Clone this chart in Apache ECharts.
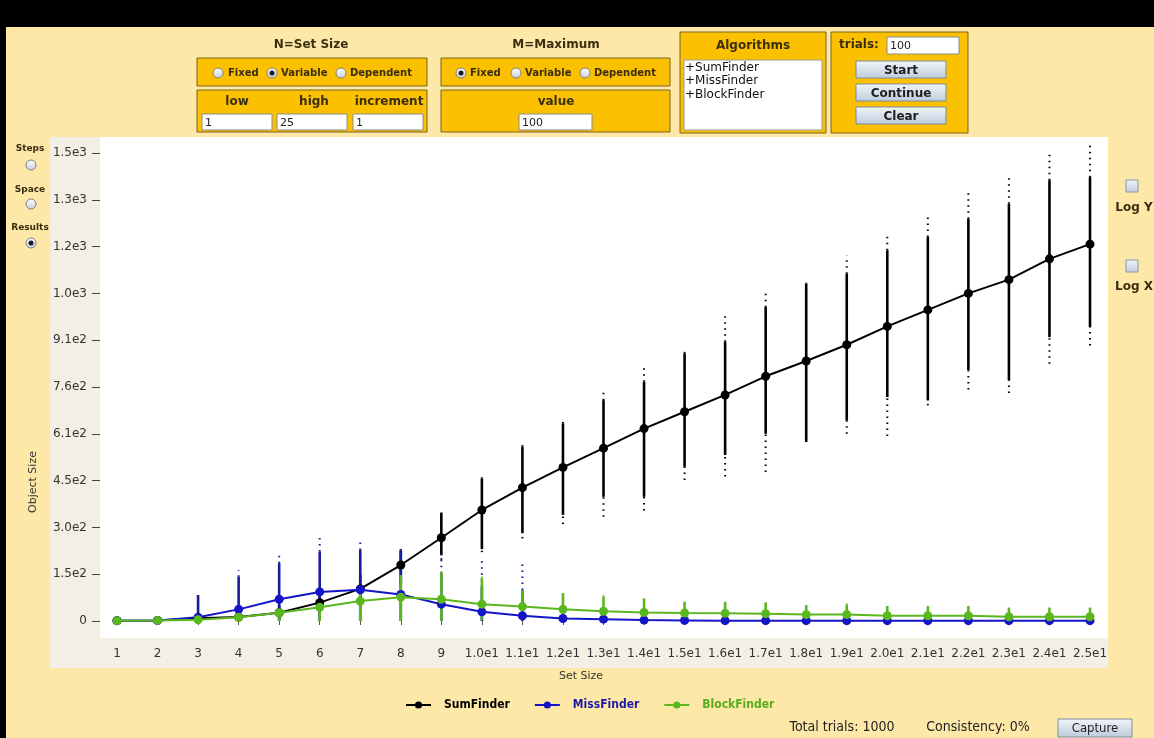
<!DOCTYPE html>
<html>
<head>
<meta charset="utf-8">
<title>Object Size vs Set Size</title>
<script src="https://cdn.jsdelivr.net/npm/echarts@6/dist/echarts.min.js"></script>
<style>
  html, body { margin: 0; padding: 0; background: #fde8a8; }
  #chart { width: 1154px; height: 738px; }
</style>
</head>
<body>
<div id="chart"></div>
<script>
// ---- data ----
const setSizes = [1, 2, 3, 4, 5, 6, 7, 8, 9, 10, 11, 12, 13, 14, 15, 16, 17, 18, 19, 20, 21, 22, 23, 24, 25];
const xTickLabels = ['1', '2', '3', '4', '5', '6', '7', '8', '9', '1.0e1', '1.1e1', '1.2e1', '1.3e1', '1.4e1',
  '1.5e1', '1.6e1', '1.7e1', '1.8e1', '1.9e1', '2.0e1', '2.1e1', '2.2e1', '2.3e1', '2.4e1', '2.5e1'];
const yTickValues = [0, 153, 306, 459, 612, 765, 918, 1071, 1224, 1377, 1530];
const yTickLabels = ['0', '1.5e2', '3.0e2', '4.5e2', '6.1e2', '7.6e2', '9.1e2', '1.0e3', '1.2e3', '1.3e3', '1.5e3'];

// SumFinder: mean, dense range (low..high) and extreme trials (min..max)
const sumMean = [1, 2, 9, 13, 27, 60, 105, 183, 272, 363, 436, 502, 565, 629, 684, 739, 800, 850, 903, 963, 1017, 1071, 1116, 1184, 1232];
const sumLow  = [0, 0, 0, 3, 8, 25, 55, 120, 215, 235, 287, 347, 406, 406, 504, 543, 612, 585, 656, 732, 721, 820, 787, 928, 961];
const sumHigh = [2, 4, 20, 30, 50, 100, 150, 230, 353, 465, 570, 646, 722, 782, 875, 913, 1026, 1103, 1135, 1212, 1255, 1315, 1364, 1441, 1451];
const sumMin  = [0, 0, 0, 0, 3, 15, 45, 110, 200, 225, 270, 317, 341, 361, 461, 472, 487, 585, 612, 605, 705, 757, 745, 841, 901];
const sumMax  = [3, 5, 25, 35, 60, 110, 160, 240, 355, 478, 583, 655, 750, 826, 888, 998, 1084, 1106, 1195, 1261, 1321, 1399, 1459, 1533, 1566];

// MissFinder
const missMean = [1, 2, 12, 38, 71, 95, 102, 87, 55, 30, 17, 8, 6, 3, 2, 1, 1, 1, 1, 1, 1, 1, 1, 1, 1];
const missLow  = [0, 0, 0, 0, 0, 0, 0, 0, 0, 0, 0, 0, 0, 0, 0, 0, 0, 0, 0, 0, 0, 0, 0, 0, 0];
const missHigh = [2, 3, 85, 145, 189, 227, 232, 230, 156, 112, 101, 40, 15, 10, 5, 3, 3, 3, 3, 3, 3, 3, 3, 3, 3];
const missMin  = [0, 0, 0, 0, 0, 0, 0, 0, 0, 0, 0, 0, 0, 0, 0, 0, 0, 0, 0, 0, 0, 0, 0, 0, 0];
const missMax  = [2, 3, 85, 167, 219, 274, 270, 245, 230, 199, 189, 40, 20, 12, 8, 5, 5, 5, 5, 5, 5, 5, 5, 5, 5];

// BlockFinder
const blockMean = [1, 2, 4, 12, 27, 45, 65, 78, 71, 55, 47, 38, 32, 28, 26, 25, 24, 21, 21, 17, 17, 17, 14, 14, 14];
const blockLow  = [0, 0, 0, 0, 0, 0, 0, 0, 0, 3, 3, 3, 3, 3, 3, 3, 3, 3, 3, 3, 3, 3, 3, 3, 3];
const blockHigh = [2, 3, 8, 20, 39, 70, 112, 150, 156, 140, 101, 91, 79, 74, 63, 63, 61, 52, 52, 49, 49, 49, 44, 44, 44];
const blockMin  = [0, 0, 0, 0, 0, 0, 0, 0, 0, 3, 3, 3, 3, 3, 3, 3, 3, 3, 3, 3, 3, 3, 3, 3, 3];
const blockMax  = [2, 3, 8, 20, 39, 70, 112, 150, 170, 150, 101, 91, 98, 74, 63, 63, 61, 52, 72, 49, 49, 49, 44, 44, 44];

// ---- styling ----
const FONT = 'DejaVu Sans';
const CONDENSED = "'DejaVu Sans Condensed', 'DejaVu Sans'";
const PANEL_TEXT = '#3b2e10';
const GOLD = '#fbc000';
const GOLD_EDGE = '#7d6220';
const COLORS = {
  sum:   { line: '#000000', bar: '#000000', text: '#000000' },
  miss:  { line: '#1414c8', bar: '#1a1a9c', text: '#1a1aa8' },
  block: { line: '#5ab81e', bar: '#5ab81e', text: '#5aad1f' }
};

function rangeRows(mn, lo, hi, mx) {
  return setSizes.map((x, i) => [x, mn[i], lo[i], hi[i], mx[i]]);
}
function meanRows(mean) {
  return setSizes.map((x, i) => [x, mean[i]]);
}

// vertical trial spread: solid dense part, dotted sparse extremes
function rangeRenderer(color, width) {
  return function (params, api) {
    const x = api.value(0);
    const mn = api.value(1), lo = api.value(2), hi = api.value(3), mx = api.value(4);
    const children = [];
    const seg = (a, b, dotted) => {
      const A = api.coord([x, a]);
      const B = api.coord([x, b]);
      children.push({
        type: 'line',
        shape: { x1: A[0], y1: A[1], x2: B[0], y2: B[1] },
        style: {
          stroke: color,
          lineWidth: dotted ? 2 : width,
          lineDash: dotted ? [1.5, 4.5] : null
        }
      });
    };
    if (hi > lo) seg(lo, hi, false);
    if (mx > hi) seg(hi, mx, true);
    if (lo > mn) seg(mn, lo, true);
    return { type: 'group', children };
  };
}

function rangeSeries(name, rows, color) {
  return {
    type: 'custom',
    name: name,
    data: rows,
    encode: { x: 0, y: [1, 2, 3, 4] },
    renderItem: rangeRenderer(color, 2.6),
    silent: true,
    z: 2
  };
}
function meanSeries(name, rows, color, z) {
  return {
    type: 'line',
    name: name,
    data: rows,
    symbol: 'circle',
    symbolSize: 9,
    clip: false,
    lineStyle: { color: color, width: 2 },
    itemStyle: { color: color },
    z: z
  };
}

// ---- window furniture ----
const radioFill = new echarts.graphic.LinearGradient(0, 0, 0, 1, [
  { offset: 0, color: '#ffffff' }, { offset: 1, color: '#c9d0d8' }
]);
const buttonFill = new echarts.graphic.LinearGradient(0, 0, 0, 1, [
  { offset: 0, color: '#f3f6fa' }, { offset: 1, color: '#bccbdb' }
]);
const boxFill = new echarts.graphic.LinearGradient(0, 0, 0, 1, [
  { offset: 0, color: '#eef2f7' }, { offset: 1, color: '#c3d0de' }
]);

function rect(x, y, w, h, fill, stroke, z) {
  return {
    type: 'rect', shape: { x, y, width: w, height: h }, z: z == null ? 0 : z,
    style: { fill, stroke: stroke || null, lineWidth: stroke ? 1 : 0 }
  };
}
function label(text, x, y, font, fill, align) {
  return {
    type: 'text', x, y, z: 5,
    style: {
      text, font, fill: fill || PANEL_TEXT,
      align: align || 'center', verticalAlign: 'middle',
      textAlign: align || 'center', textVerticalAlign: 'middle'
    }
  };
}
function radio(x, y, on) {
  const els = [{ type: 'circle', z: 5, shape: { cx: x, cy: y, r: 5 }, style: { fill: radioFill, stroke: '#808080', lineWidth: 1 } }];
  if (on) els.push({ type: 'circle', z: 6, shape: { cx: x, cy: y, r: 2.5 }, style: { fill: '#1b1b2b' } });
  return els;
}
function input(x, y, w, h, text) {
  return [
    rect(x, y, w, h, '#ffffff', '#8c8c8c', 4),
    label(text, x + 3, y + h / 2 + 1, '11px ' + FONT, '#222222', 'left')
  ];
}
function button(x, y, w, h, text, font) {
  return [
    rect(x, y, w, h, buttonFill, '#7d8ca0', 4),
    label(text, x + w / 2, y + h / 2 + 1, font, '#1e1e1e')
  ];
}

const B12 = 'bold 12px ' + FONT;
const B10 = 'bold 10px ' + FONT;
const B9 = 'bold 9px ' + FONT;

const furniture = [
  // frame
  rect(0, 0, 1154, 27, '#000000', null, 1),
  rect(0, 0, 6, 738, '#000000', null, 1),
  // plot panel and drawing area
  rect(50, 137, 1058, 531, '#f3efe5', null, -20),
  rect(100, 137, 1008, 501, '#ffffff', null, -19),

  // N = Set Size
  label('N=Set Size', 311, 45, B12),
  rect(197, 58, 230, 28, GOLD, GOLD_EDGE, 3),
  ...radio(218, 73, false), label('Fixed', 228, 73, B10, null, 'left'),
  ...radio(272, 73, true), label('Variable', 281, 73, B10, null, 'left'),
  ...radio(341, 73, false), label('Dependent', 350, 73, B10, null, 'left'),
  rect(197, 90, 230, 42, GOLD, GOLD_EDGE, 3),
  label('low', 237, 102, B12), label('high', 314, 102, B12), label('increment', 389, 102, B12),
  ...input(202, 114, 70, 16, '1'), ...input(277, 114, 70, 16, '25'), ...input(353, 114, 70, 16, '1'),

  // M = Maximum
  label('M=Maximum', 556, 45, B12),
  rect(441, 58, 229, 28, GOLD, GOLD_EDGE, 3),
  ...radio(461, 73, true), label('Fixed', 470, 73, B10, null, 'left'),
  ...radio(516, 73, false), label('Variable', 525, 73, B10, null, 'left'),
  ...radio(585, 73, false), label('Dependent', 594, 73, B10, null, 'left'),
  rect(441, 90, 229, 42, GOLD, GOLD_EDGE, 3),
  label('value', 556, 102, B12),
  ...input(519, 114, 73, 16, '100'),

  // Algorithms
  rect(680, 32, 146, 101, GOLD, GOLD_EDGE, 3),
  label('Algorithms', 753, 46, B12),
  rect(684, 60, 138, 70, '#ffffff', '#9a9a9a', 4),
  label('+SumFinder', 685, 68, '12px ' + FONT, '#111111', 'left'),
  label('+MissFinder', 685, 81, '12px ' + FONT, '#111111', 'left'),
  label('+BlockFinder', 685, 95, '12px ' + FONT, '#111111', 'left'),

  // trials / run controls
  rect(831, 32, 137, 101, GOLD, GOLD_EDGE, 3),
  label('trials:', 839, 45, B12, null, 'left'),
  ...input(887, 37, 72, 17, '100'),
  ...button(856, 61, 90, 17, 'Start', B12),
  ...button(856, 84, 90, 17, 'Continue', B12),
  ...button(856, 107, 90, 17, 'Clear', B12),

  // measure selector
  label('Steps', 30, 149, B9), ...radio(31, 165, false),
  label('Space', 30, 190, B9), ...radio(31, 204, false),
  label('Results', 30, 228, B9), ...radio(31, 243, true),

  // log toggles
  rect(1126, 180, 12, 12, boxFill, '#8797aa', 4), label('Log Y', 1134, 208, B12),
  rect(1126, 260, 12, 12, boxFill, '#8797aa', 4), label('Log X', 1134, 287, B12),

  // axis titles
  label('Set Size', 581, 676, '11px ' + FONT, '#333333'),
  {
    type: 'text', x: 33, y: 482, rotation: Math.PI / 2, z: 5,
    style: {
      text: 'Object Size', font: '11px ' + FONT, fill: '#333333',
      align: 'center', verticalAlign: 'middle', textAlign: 'center', textVerticalAlign: 'middle'
    }
  },

  // status line
  label('Total trials: 1000', 842, 727, '14px ' + CONDENSED, '#222222'),
  label('Consistency: 0%', 978, 727, '14px ' + CONDENSED, '#222222'),
  ...button(1058, 719, 74, 18, 'Capture', '13px ' + CONDENSED)
];

// ---- chart ----
const chart = echarts.init(document.getElementById('chart'), null, { renderer: 'canvas' });

function nearestLabel(values, labels, v) {
  let best = -1, dist = Infinity;
  values.forEach((t, i) => { const d = Math.abs(t - v); if (d < dist) { dist = d; best = i; } });
  return dist < 1e-6 ? labels[best] : '';
}

chart.setOption({
  animation: false,
  backgroundColor: '#fde8a8',
  grid: { left: 100, top: 137, width: 1008, height: 501, containLabel: false, show: false },
  xAxis: {
    type: 'value',
    min: 0.5806,
    max: 25.444,
    axisLine: { show: false },
    splitLine: { show: false },
    axisTick: { show: true, length: 4, customValues: setSizes, lineStyle: { color: '#555555' } },
    axisLabel: {
      customValues: setSizes,
      margin: 10,
      color: '#333333',
      fontFamily: FONT,
      fontSize: 12,
      formatter: (v) => nearestLabel(setSizes, xTickLabels, v)
    }
  },
  yAxis: {
    type: 'value',
    min: -55.6,
    max: 1582.3,
    axisLine: { show: false },
    splitLine: { show: false },
    axisTick: { show: true, length: 8, customValues: yTickValues, lineStyle: { color: '#444444' } },
    axisLabel: {
      customValues: yTickValues,
      margin: 13,
      color: '#333333',
      fontFamily: FONT,
      fontSize: 12,
      formatter: (v) => nearestLabel(yTickValues, yTickLabels, v)
    }
  },
  legend: {
    data: [
      { name: 'SumFinder', textStyle: { color: COLORS.sum.text } },
      { name: 'MissFinder', textStyle: { color: COLORS.miss.text } },
      { name: 'BlockFinder', textStyle: { color: COLORS.block.text } }
    ],
    left: 405,
    top: 699,
    padding: 0,
    itemWidth: 25,
    itemHeight: 9,
    itemGap: 24,
    selectedMode: false,
    textStyle: { fontFamily: CONDENSED, fontSize: 12, fontWeight: 'bold', padding: [0, 0, 0, 8] }
  },
  graphic: { elements: furniture },
  series: [
    rangeSeries('SumFinder trials', rangeRows(sumMin, sumLow, sumHigh, sumMax), COLORS.sum.bar),
    meanSeries('SumFinder', meanRows(sumMean), COLORS.sum.line, 3),
    rangeSeries('MissFinder trials', rangeRows(missMin, missLow, missHigh, missMax), COLORS.miss.bar),
    meanSeries('MissFinder', meanRows(missMean), COLORS.miss.line, 4),
    rangeSeries('BlockFinder trials', rangeRows(blockMin, blockLow, blockHigh, blockMax), COLORS.block.bar),
    meanSeries('BlockFinder', meanRows(blockMean), COLORS.block.line, 5)
  ]
});
</script>
</body>
</html>
